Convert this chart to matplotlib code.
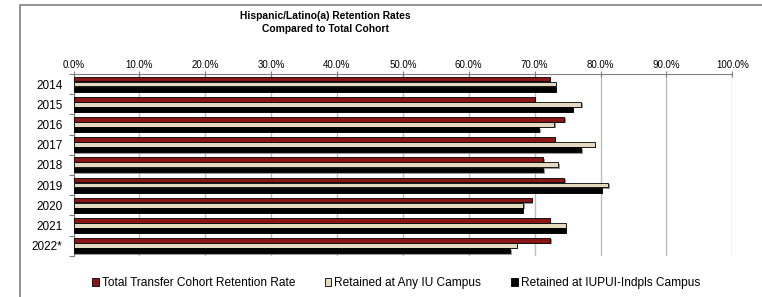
import numpy as np
import matplotlib.pyplot as plt
import matplotlib.patches as mpatches
import matplotlib.patheffects as pe

years = ['2014', '2015', '2016', '2017', '2018', '2019', '2020', '2021', '2022*']
total_cohort = [72.3, 70.0, 74.5, 73.1, 71.3, 74.5, 69.6, 72.3, 72.4]
any_iu = [73.2, 77.1, 73.0, 79.1, 73.6, 81.2, 68.3, 74.7, 67.3]
iupui_indpls = [73.2, 75.8, 70.7, 77.1, 71.3, 80.2, 68.2, 74.7, 66.3]

labels = ['Total Transfer Cohort Retention Rate', 'Retained at Any IU Campus',
          'Retained at IUPUI-Indpls Campus']
colors = ['#8B1514', '#E3DAC0', '#000000']

plt.rcParams['font.family'] = ['Liberation Sans', 'DejaVu Sans']

W, H = 762, 297
fig = plt.figure(figsize=(W / 100, H / 100), dpi=100)
ax = fig.add_axes([73.5 / W, 1 - 255.7 / H, (732.3 - 73.5) / W, (255.7 - 74) / H])

y = np.arange(len(years))
h = 0.235
shadow = [pe.SimplePatchShadow(offset=(1, -1), shadow_rgbFace='#808080', alpha=0.8), pe.Normal()]
for i, (vals, c) in enumerate(zip([total_cohort, any_iu, iupui_indpls], colors)):
    ax.barh(y + (i - 1) * (h + 0.02), vals, height=h, color=c, edgecolor='black',
            linewidth=0.6, path_effects=shadow, zorder=3)

ax.set_xlim(0, 100)
ax.set_ylim(len(years) - 0.5, -0.5)
ax.xaxis.tick_top()
ax.set_xticks(np.arange(0, 101, 10))
ax.set_xticklabels(['%.1f%%' % v for v in np.arange(0, 101, 10)], fontsize=7)
ax.tick_params(axis='x', direction='inout', length=5, color='#808080', pad=0.5)
ax.grid(axis='x', color='#BDBDBD', linewidth=1, zorder=0)

ax.set_yticks(np.arange(len(years) + 1) - 0.5)
ax.set_yticklabels([])
ax.set_yticks(y, minor=True)
ax.set_yticklabels(years, minor=True, fontsize=8.5)
ax.tick_params(axis='y', which='major', length=3.5, color='#808080')
ax.tick_params(axis='y', which='minor', length=0, pad=8)

for s in ['bottom', 'right']:
    ax.spines[s].set_visible(False)
for s in ['top', 'left']:
    ax.spines[s].set_color('#808080')

fig.text(325 / W, 1 - 16 / H, 'Hispanic/Latino(a) Retention Rates', ha='center', va='center',
         fontsize=7.4, fontweight='bold')
fig.text(325 / W, 1 - 28.5 / H, 'Compared to Total Cohort', ha='center', va='center',
         fontsize=7.4, fontweight='bold')

handles = [mpatches.Patch(facecolor=c, edgecolor='black', linewidth=0.6, label=l)
           for c, l in zip(colors, labels)]
fig.legend(handles=handles, loc='center', bbox_to_anchor=(396 / W, 1 - 283 / H), ncol=3,
           frameon=False, fontsize=8.6, handlelength=0.55, handleheight=0.6,
           handletextpad=0.25, columnspacing=2.5)

border = mpatches.Rectangle((20 / W, -0.1), 1, 1 - 5 / H + 0.1, transform=fig.transFigure,
                            fill=False, edgecolor='#808080', linewidth=1.2)
fig.patches.append(border)

fig.savefig('out.png', dpi=100)
